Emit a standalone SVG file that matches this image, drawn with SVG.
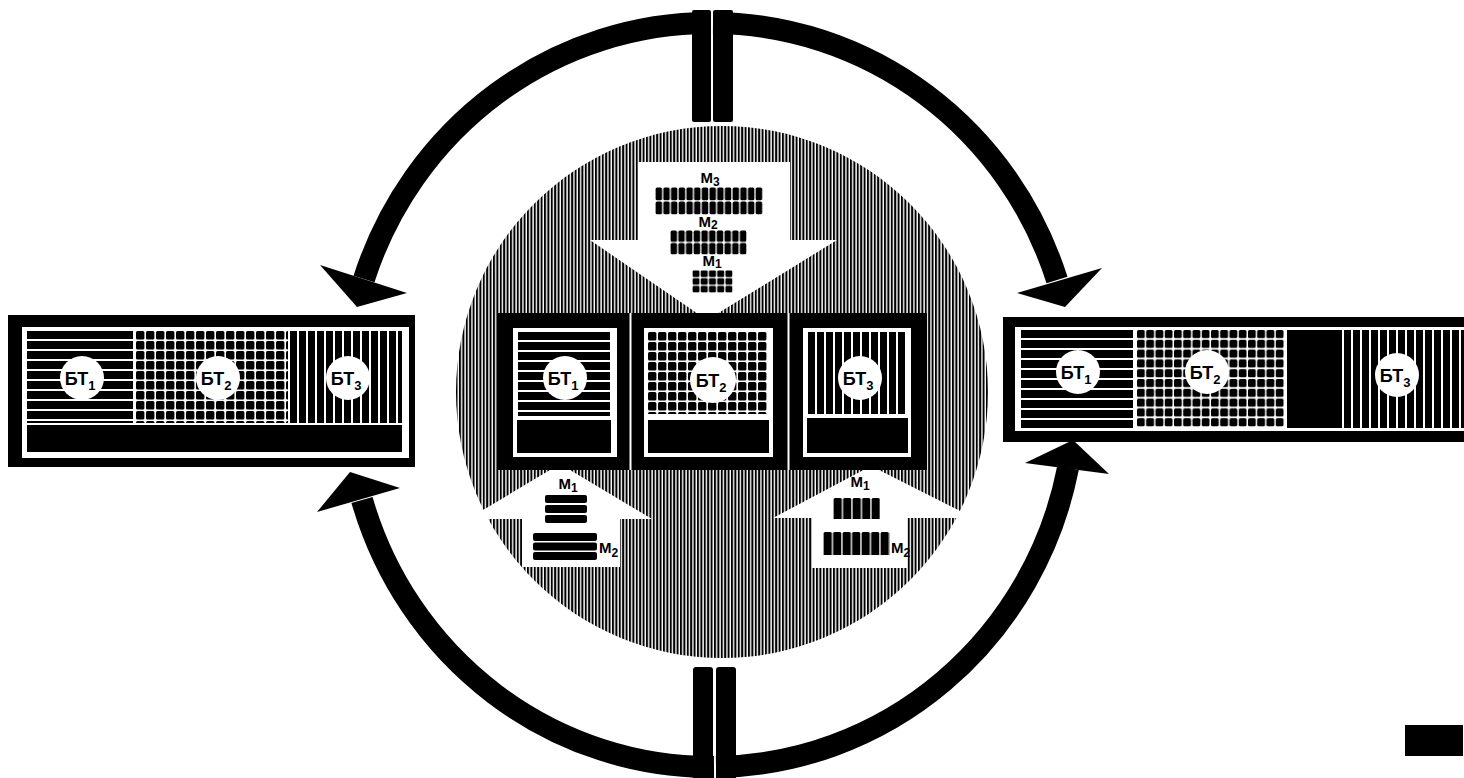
<svg xmlns="http://www.w3.org/2000/svg" width="1464" height="778" viewBox="0 0 1464 778">
<style>
.lbl{font-family:"Liberation Sans","DejaVu Sans",sans-serif;font-weight:bold;font-size:18px;fill:#000;text-anchor:middle}
.m{font-family:"Liberation Sans","DejaVu Sans",sans-serif;font-weight:bold;font-size:15px;fill:#000}
.arc{fill:none;stroke:#000;stroke-width:22}
</style>
<defs>
<pattern id="hatch" patternUnits="userSpaceOnUse" width="3.4" height="10"><rect x="0" y="0" width="2" height="10" fill="#000"/></pattern>
<pattern id="hs" patternUnits="userSpaceOnUse" width="10" height="10"><rect x="0" y="0" width="200" height="8" fill="#000"/></pattern>
<pattern id="grid" patternUnits="userSpaceOnUse" width="10" height="10"><rect x="0" y="0" width="8.4" height="8.4" rx="1.5" fill="#000"/></pattern>
<pattern id="grid2" patternUnits="userSpaceOnUse" width="9.25" height="9.8"><rect x="0" y="0" width="7.8" height="8.2" rx="1.5" fill="#000"/></pattern>
<pattern id="vs" patternUnits="userSpaceOnUse" width="9" height="10"><rect x="0" y="0" width="7" height="10" fill="#000"/></pattern>
<pattern id="pm3" patternUnits="userSpaceOnUse" width="7.7" height="14"><rect x="0.6" y="0.6" width="6.4" height="12.6" rx="1.5" fill="#000"/></pattern>
<pattern id="pm2" patternUnits="userSpaceOnUse" width="7.7" height="12.5"><rect x="0.6" y="0.6" width="6.4" height="11.2" rx="1.5" fill="#000"/></pattern>
<pattern id="pm1" patternUnits="userSpaceOnUse" width="8.2" height="7.7"><rect x="0.6" y="0.6" width="6.9" height="6.4" rx="1.2" fill="#000"/></pattern>
<pattern id="pv" patternUnits="userSpaceOnUse" width="9.5" height="30"><rect x="0.6" y="0" width="8.2" height="30" rx="1.5" fill="#000"/></pattern>
</defs>
<rect width="1464" height="778" fill="#fff"/>

<g id="center-circle">
<circle cx="722" cy="392" r="266" fill="url(#hatch)"/>
<polygon points="638,162 790,162 790,240 837,240 707,320 590,240 638,240" fill="#fff"/>
<polygon points="560,464 652,519 620,519 620,567 522,567 522,519 468,519" fill="#fff"/>
<polygon points="871,466 974,518 907,518 907,568 812,568 812,518 773,518" fill="#fff"/>
<text class="m" x="710" y="183" text-anchor="middle">M<tspan font-size="12" dy="3">3</tspan></text>
<g transform="translate(655,187)"><rect width="108" height="28" fill="url(#pm3)"/></g>
<text class="m" x="708" y="227" text-anchor="middle">M<tspan font-size="12" dy="2">2</tspan></text>
<g transform="translate(670,230)"><rect width="77" height="25" fill="url(#pm2)"/></g>
<text class="m" x="712" y="266" text-anchor="middle">M<tspan font-size="12" dy="2">1</tspan></text>
<g transform="translate(692,270)"><rect width="41" height="23" fill="url(#pm1)"/></g>
<text class="m" x="568" y="489" text-anchor="middle">M<tspan font-size="12" dy="3">1</tspan></text>
<rect x="545" y="495" width="42" height="8" rx="2" fill="#000"/>
<rect x="545" y="505" width="42" height="8" rx="2" fill="#000"/>
<rect x="545" y="515" width="42" height="8" rx="2" fill="#000"/>
<rect x="533" y="533" width="64" height="8" rx="2" fill="#000"/>
<rect x="533" y="542.5" width="64" height="8" rx="2" fill="#000"/>
<rect x="533" y="552" width="64" height="8" rx="2" fill="#000"/>
<text class="m" x="599" y="553">M<tspan font-size="12" dy="4">2</tspan></text>
<text class="m" x="860" y="487" text-anchor="middle">M<tspan font-size="12" dy="3">1</tspan></text>
<g transform="translate(833,498)"><rect width="47" height="21" fill="url(#pv)"/></g>
<g transform="translate(823,532)"><rect width="67" height="23" fill="url(#pv)"/></g>
<text class="m" x="891" y="553">M<tspan font-size="12" dy="4">2</tspan></text>
</g>

<g id="center-boxes">
<rect x="497" y="313" width="430" height="157" fill="#000"/>
<rect x="629.5" y="313" width="2" height="157" fill="#fff"/>
<rect x="787.5" y="313" width="2" height="157" fill="#fff"/>
<rect x="513" y="328" width="104" height="129" fill="#fff"/>
<g transform="translate(518,332)"><rect width="92" height="84" fill="url(#hs)"/></g>
<rect x="517" y="420" width="94" height="33" fill="#000"/>
<rect x="644" y="328" width="129" height="129" fill="#fff"/>
<g transform="translate(648,332)"><rect width="120" height="82" fill="url(#grid)"/></g>
<rect x="648" y="420" width="121" height="33" fill="#000"/>
<rect x="803" y="328" width="108" height="129" fill="#fff"/>
<g transform="translate(808,332)"><rect width="99" height="82" fill="url(#vs)"/></g>
<rect x="807" y="418" width="101" height="35" fill="#000"/>
<circle cx="565" cy="378" r="22" fill="#fff"/>
<text class="lbl" x="563" y="385">БТ<tspan font-size="13" dy="5">1</tspan></text>
<circle cx="713" cy="380" r="23" fill="#fff"/>
<text class="lbl" x="711" y="387">БТ<tspan font-size="13" dy="5">2</tspan></text>
<circle cx="860" cy="378" r="22" fill="#fff"/>
<text class="lbl" x="858" y="385">БТ<tspan font-size="13" dy="5">3</tspan></text>
</g>

<g id="left-box">
<rect x="8" y="315" width="407" height="152" fill="#000"/>
<rect x="22" y="327" width="387" height="131" fill="#fff"/>
<g transform="translate(27,331)"><rect width="106" height="92" fill="url(#hs)"/></g>
<g transform="translate(136,331)"><rect width="152" height="92" fill="url(#grid)"/></g>
<g transform="translate(290,331)"><rect width="112" height="92" fill="url(#vs)"/></g>
<rect x="27" y="425" width="375" height="27" fill="#000"/>
<circle cx="82" cy="378" r="22" fill="#fff"/>
<text class="lbl" x="80" y="385">БТ<tspan font-size="13" dy="5">1</tspan></text>
<circle cx="218" cy="378" r="22" fill="#fff"/>
<text class="lbl" x="216" y="385">БТ<tspan font-size="13" dy="5">2</tspan></text>
<circle cx="348" cy="378" r="22" fill="#fff"/>
<text class="lbl" x="346" y="385">БТ<tspan font-size="13" dy="5">3</tspan></text>
</g>

<g id="right-box">
<rect x="1003" y="317" width="480" height="125" fill="#000"/>
<rect x="1015" y="327" width="470" height="104" fill="#fff"/>
<g transform="translate(1021,330)"><rect width="112" height="98" fill="url(#hs)"/></g>
<g transform="translate(1137,330)"><rect width="148" height="98" fill="url(#grid2)"/></g>
<rect x="1287" y="330" width="55" height="98" fill="#000"/>
<g transform="translate(1344,330)"><rect width="130" height="98" fill="url(#vs)"/></g>
<circle cx="1078" cy="372" r="22" fill="#fff"/>
<text class="lbl" x="1076" y="379">БТ<tspan font-size="13" dy="5">1</tspan></text>
<circle cx="1207" cy="372" r="22" fill="#fff"/>
<text class="lbl" x="1205" y="379">БТ<tspan font-size="13" dy="5">2</tspan></text>
<circle cx="1397" cy="375" r="22" fill="#fff"/>
<text class="lbl" x="1395" y="382">БТ<tspan font-size="13" dy="5">3</tspan></text>
</g>

<g id="connectors">
<path class="arc" d="M 711 23 A 364 372 0 0 0 364 279"/>
<path class="arc" d="M 713 23 A 364 372 0 0 1 1057 280"/>
<path class="arc" d="M 714 767 A 364 372 0 0 1 362 500"/>
<path class="arc" d="M 716 767 A 364 372 0 0 0 1068 468"/>
<polygon points="320,265 407,293 357,307" fill="#000"/>
<polygon points="1017,293 1102,268 1065,307" fill="#000"/>
<polygon points="350,472 317,512 400,488" fill="#000"/>
<polygon points="1073,440 1025,463 1109,474" fill="#000"/>
<rect x="692" y="10" width="19" height="112" rx="2" fill="#000"/>
<rect x="713" y="10" width="20" height="112" rx="2" fill="#000"/>
<rect x="693" y="667" width="20" height="115" rx="3" fill="#000"/>
<rect x="716" y="667" width="20" height="115" rx="3" fill="#000"/>
</g>

<rect id="corner-block" x="1405" y="725" width="58" height="31" fill="#000"/>
</svg>
